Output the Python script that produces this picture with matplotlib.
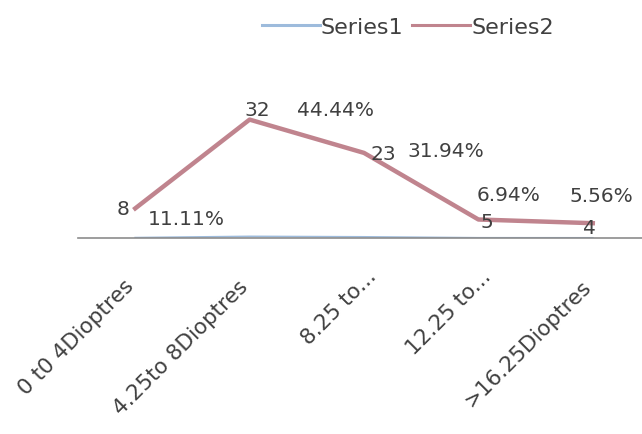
import matplotlib
matplotlib.use("Agg")
import matplotlib.pyplot as plt
import matplotlib.transforms as mtransforms

categories = ["0 t0 4Dioptres", "4.25to 8Dioptres", "8.25 to...", "12.25 to...", ">16.25Dioptres"]
counts = [8, 32, 23, 5, 4]
percents = [0.1111, 0.4444, 0.3194, 0.0694, 0.0556]
pct_labels = ["11.11%", "44.44%", "31.94%", "6.94%", "5.56%"]

TXT = "#404040"
C1 = "#9dbbdc"
C2 = "#c0848e"

plt.rcParams["font.family"] = ["DejaVu Sans"]

fig = plt.figure(figsize=(6.42, 4.35), dpi=100)
ax = fig.add_axes([78 / 642, 196 / 435, 572 / 642, 148 / 435])

x = list(range(len(categories)))
ax.plot(x, percents, color=C1, lw=1.2, label="Series1", zorder=2)
ax.plot(x, counts, color=C2, lw=3.2, label="Series2", zorder=3)

ax.set_xlim(-0.5, len(categories) - 0.5)
ax.set_ylim(0, 40)

for s in ["top", "right", "left"]:
    ax.spines[s].set_visible(False)
ax.spines["bottom"].set_color("#8c8c8c")
ax.spines["bottom"].set_linewidth(1.2)
ax.spines["bottom"].set_zorder(4)
ax.set_yticks([])
ax.set_xticks(x)
ax.set_xticklabels(categories, rotation=45, ha="right", rotation_mode="anchor",
                   fontsize=15.5, color=TXT)
ax.tick_params(axis="x", length=0, pad=27)

# small per-label nudges (pixels) so the rotated labels end where the reference's do
lab_shift = [(-12, 0), (-12, 0), (2, 10), (2, 10), (-12, 0)]
for lab, (sx, sy) in zip(ax.get_xticklabels(), lab_shift):
    lab.set_transform(lab.get_transform() +
                      mtransforms.ScaledTranslation(sx / 100, sy / 100, fig.dpi_scale_trans))

# value labels (counts) and percentage labels, offsets in pixels
cnt_off = [(-12, 0, "center"), (-5, 10, "left"), (7, -1, "left"), (2, -2, "left"), (-10, -4, "left")]
pct_off = [(13, -10), (47, 10), (43, 2), (-2, 25), (-23, 28)]
for i in x:
    dx, dy, ha = cnt_off[i]
    ax.annotate(str(counts[i]), (i, counts[i]), xytext=(dx, dy), textcoords="offset pixels",
                ha=ha, va="center", fontsize=14.5, color=TXT, zorder=5)
    px, py = pct_off[i]
    ax.annotate(pct_labels[i], (i, counts[i]), xytext=(px, py), textcoords="offset pixels",
                ha="left", va="center", fontsize=14.5, color=TXT, zorder=5, annotation_clip=False)

leg = fig.legend(loc="center", bbox_to_anchor=(408 / 642, 1 - 28 / 435), ncol=2, frameon=False,
                 fontsize=16, handlelength=2.6, handletextpad=0.05, columnspacing=0.4,
                 labelcolor=TXT)
for h in leg.legend_handles:
    h.set_linewidth(2.2)

fig.savefig("out.png", dpi=100)
